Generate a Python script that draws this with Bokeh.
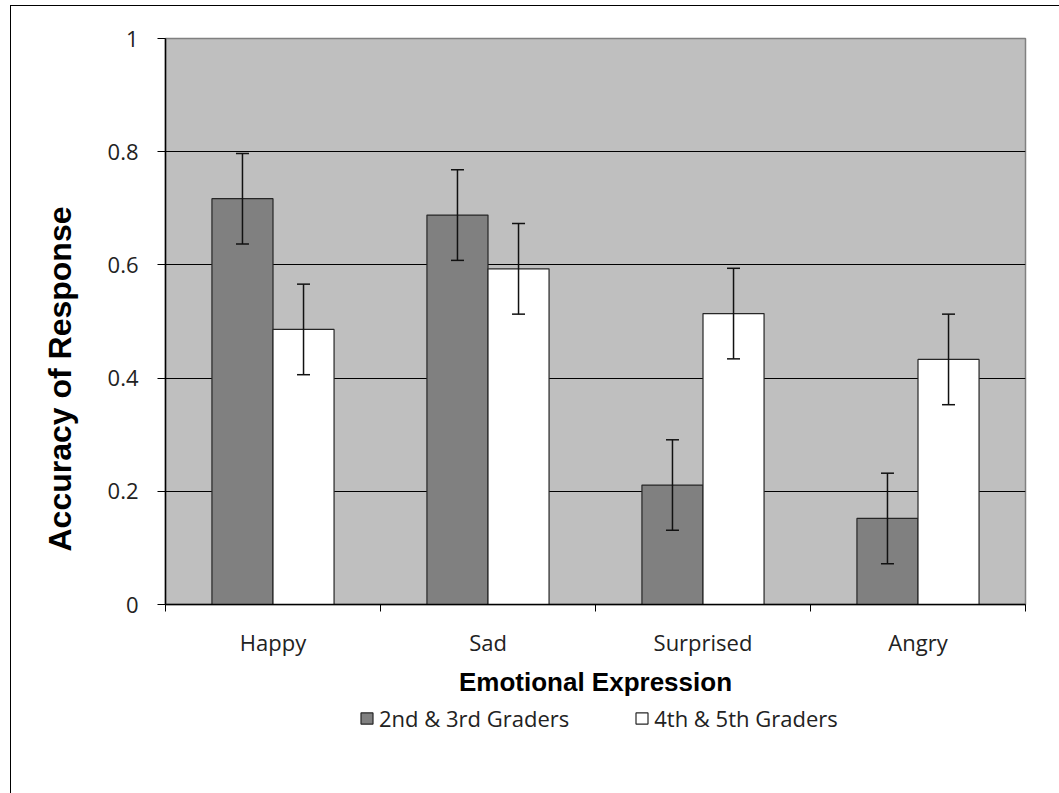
from bokeh.plotting import figure
from bokeh.layouts import column
from bokeh.models import (ColumnDataSource, Range1d, FixedTicker, NumeralTickFormatter,
                          Whisker, TeeHead, Legend, LegendItem, Title)
from bokeh.embed import file_html
from bokeh.resources import INLINE

categories = ["Happy", "Sad", "Surprised", "Angry"]
series_names = ["2nd & 3rd Graders", "4th & 5th Graders"]
younger = [0.717, 0.688, 0.211, 0.152]
older = [0.486, 0.593, 0.514, 0.433]
younger_err = [0.080, 0.080, 0.080, 0.080]
older_err = [0.080, 0.080, 0.080, 0.080]
y_ticks = [0, 0.2, 0.4, 0.6, 0.8, 1.0]
grid_ticks = [0.2, 0.4, 0.6, 0.8]
x_title = "Emotional Expression"
y_title = "Accuracy of Response"

series_fill = ["#808080", "#FFFFFF"]

bar_w = 0.284
n = len(categories)
centers = [i + 0.5 for i in range(n)]

src_y = ColumnDataSource(dict(
    x=[c - bar_w / 2 for c in centers], top=younger,
    upper=[v + e for v, e in zip(younger, younger_err)],
    lower=[v - e for v, e in zip(younger, younger_err)]))
src_o = ColumnDataSource(dict(
    x=[c + bar_w / 2 for c in centers], top=older,
    upper=[v + e for v, e in zip(older, older_err)],
    lower=[v - e for v, e in zip(older, older_err)]))

p = figure(frame_width=860, frame_height=566, output_backend="svg", toolbar_location=None,
           x_range=Range1d(0, n), y_range=Range1d(0, 1),
           min_border_left=154, min_border_right=34, min_border_top=32, min_border_bottom=100)
p.background_fill_color = "#BFBFBF"
p.border_fill_color = "#FFFFFF"
p.outline_line_color = "#808080"
p.outline_line_width = 1.5

r1 = p.vbar(x="x", top="top", width=bar_w, bottom=0, source=src_y,
            fill_color=series_fill[0], line_color="#262626", line_width=1.2)
r2 = p.vbar(x="x", top="top", width=bar_w, bottom=0, source=src_o,
            fill_color=series_fill[1], line_color="#262626", line_width=1.2)

for s in (src_y, src_o):
    w = Whisker(base="x", upper="upper", lower="lower", source=s, level="annotation",
                line_color="#111111", line_width=1.5,
                upper_head=TeeHead(size=13, line_width=1.5, line_color="#111111"),
                lower_head=TeeHead(size=13, line_width=1.5, line_color="#111111"))
    p.add_layout(w)

# grid
p.xgrid.grid_line_color = None
p.ygrid.ticker = FixedTicker(ticks=grid_ticks)
p.ygrid.grid_line_color = "#000000"
p.ygrid.grid_line_width = 1
p.ygrid.level = "underlay"

# x axis
xa = p.xaxis[0]
xa.ticker = FixedTicker(ticks=centers, minor_ticks=list(range(n + 1)))
xa.major_label_overrides = {c: cat for c, cat in zip(centers, categories)}
xa.major_tick_line_color = None
xa.major_tick_out = 0
xa.major_tick_in = 0
xa.minor_tick_line_color = "#000000"
xa.minor_tick_out = 7
xa.minor_tick_in = 0
xa.axis_line_color = "#000000"
xa.axis_line_width = 1.5
xa.major_label_text_font = "Open Sans"
xa.major_label_text_font_size = "22px"
xa.major_label_text_color = "#222222"
xa.major_label_standoff = 15
xa.axis_label = x_title
xa.axis_label_text_font = "Liberation Sans"
xa.axis_label_text_font_style = "bold"
xa.axis_label_text_font_size = "26px"
xa.axis_label_text_color = "#000000"
xa.axis_label_standoff = 7

# y axis
ya = p.yaxis[0]
ya.ticker = FixedTicker(ticks=y_ticks)
ya.formatter = NumeralTickFormatter(format="0.[0]")
ya.minor_tick_line_color = None
ya.major_tick_out = 8
ya.major_tick_in = 0
ya.major_tick_line_color = "#000000"
ya.axis_line_color = "#000000"
ya.axis_line_width = 1.5
ya.major_label_text_font = "Open Sans"
ya.major_label_text_font_size = "22px"
ya.major_label_text_color = "#222222"
ya.major_label_standoff = 19

yt = Title(text=y_title, align="left", offset=53, standoff=53,
           text_font="Liberation Sans", text_font_style="bold",
           text_font_size="32px", text_color="#000000")
p.add_layout(yt, "left")

# legend strip below the chart (swatch renderers sit outside the visible range)
lp = figure(width=1048, height=32, output_backend="svg", toolbar_location=None,
            x_range=Range1d(0, 1), y_range=Range1d(0, 1),
            x_axis_type=None, y_axis_type=None, min_border=0)
lp.outline_line_color = None
lp.background_fill_color = "#FFFFFF"
lp.border_fill_color = "#FFFFFF"
lp.xgrid.grid_line_color = None
lp.ygrid.grid_line_color = None
l1 = lp.vbar(x=[-5], top=[0], width=0.1,
             fill_color=series_fill[0], line_color="#262626", line_width=1.2)
l2 = lp.vbar(x=[-5], top=[0], width=0.1,
             fill_color=series_fill[1], line_color="#262626", line_width=1.2)
legend = Legend(items=[LegendItem(label=series_names[0], renderers=[l1]),
                       LegendItem(label=series_names[1], renderers=[l2])],
                orientation="horizontal", location=(194, 3),
                padding=0, margin=0, spacing=65, label_standoff=5,
                glyph_width=15, glyph_height=14,
                border_line_color=None, background_fill_alpha=0,
                label_text_font="Open Sans", label_text_font_size="22px",
                label_text_color="#222222")
lp.add_layout(legend, "center")

layout = column(p, lp, spacing=0,
                styles={"border-left": "1px solid #000000", "border-top": "1px solid #000000",
                        "margin-left": "10px", "margin-top": "5px", "padding-bottom": "57px"})

open("out.html", "w").write(file_html(layout, INLINE))
